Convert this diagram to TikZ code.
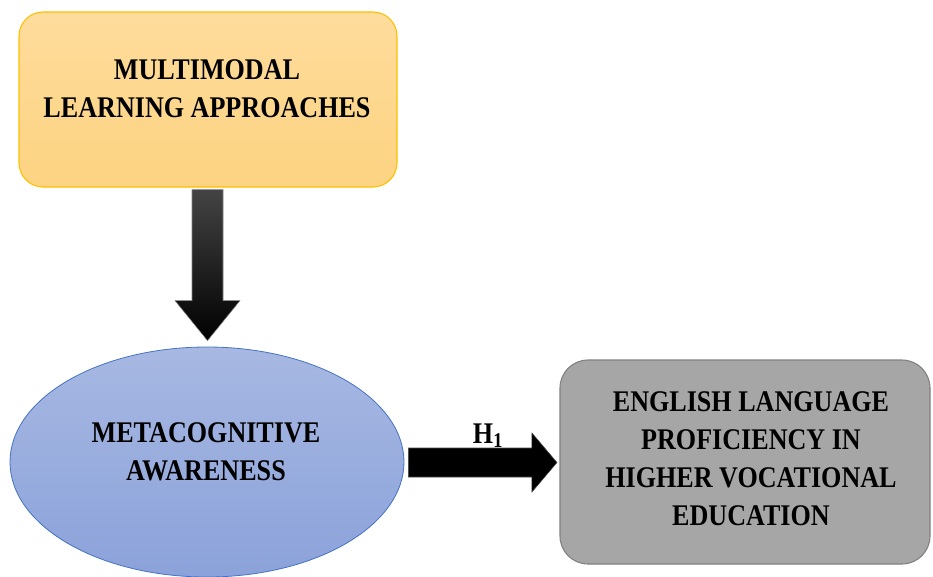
\documentclass[tikz,border=0pt]{standalone}
\usepackage{fontspec}
\setmainfont{Liberation Serif}[FakeStretch=0.87]
\usetikzlibrary{shapes.geometric,calc}
\definecolor{orTop}{HTML}{FEDC9C}
\definecolor{orBot}{HTML}{FCD381}
\definecolor{orLine}{HTML}{FFC000}
\definecolor{blTop}{HTML}{A7B8E2}
\definecolor{blBot}{HTML}{8BA2DA}
\definecolor{blLine}{HTML}{4472C4}
\definecolor{gyFill}{HTML}{A6A6A6}
\definecolor{gyLine}{HTML}{808080}
\definecolor{arTop}{HTML}{444444}
\tikzset{
  lbl/.style={align=center,inner sep=0pt,font=\bfseries\fontsize{22.5pt}{28.5pt}\selectfont,text=black},
  topbox/.style={draw=orLine,line width=0.8pt,rounded corners=18pt,top color=orTop,bottom color=orBot,
    minimum width=283.5pt,minimum height=131.25pt,inner sep=0pt},
  midell/.style={ellipse,draw=blLine,line width=0.6pt,top color=blTop,bottom color=blBot,
    minimum width=295.5pt,minimum height=172.5pt,inner sep=0pt},
  rightbox/.style={draw=gyLine,line width=0.8pt,rounded corners=21pt,fill=gyFill,
    minimum width=277.5pt,minimum height=153pt,inner sep=0pt},
  blockdown/.style={top color=arTop,bottom color=black,draw=gray,line width=0.4pt},
  blockright/.style={fill=black,draw=black!70,line width=0.4pt},
}
\begin{document}
\begin{tikzpicture}[x=0.75pt,y=-0.75pt]
\useasboundingbox (0,0) rectangle (933,576);
% shapes
\node[topbox] (mla) at (208,99.5) {};
\node[midell] (ma) at (207,462) {};
\node[rightbox] (elp) at (745,462) {};
% texts
\node[lbl] (mlat) at (207,88.5) {MULTIMODAL\\LEARNING APPROACHES};
\node[lbl] (mat) at (206,452) {METACOGNITIVE\\AWARENESS};
\node[lbl] (elpt) at (751,459) {ENGLISH LANGUAGE\\PROFICIENCY IN\\HIGHER VOCATIONAL\\EDUCATION};
% down block arrow from mla to ma
\coordinate (d0) at ($(mla.south)+(-0.5,2)$);
\coordinate (d1) at ($(ma.north)+(0.5,-6)$);
\path[blockdown] ($(d0)+(-15.5,0)$) -- ($(d0)+(15.5,0)$) -- ($(d1)+(15.5,-40)$) -- ($(d1)+(32.5,-40)$)
  -- (d1) -- ($(d1)+(-32.5,-40)$) -- ($(d1)+(-15.5,-40)$) -- cycle;
% right block arrow from ma to elp
\coordinate (r0) at ($(ma.east)+(4,0.5)$);
\coordinate (r1) at ($(elp.west)+(-2.5,0.5)$);
\path[blockright] ($(r0)+(0,-14.5)$) -- ($(r1)+(-25,-14.5)$) -- ($(r1)+(-25,-29.5)$) -- (r1)
  -- ($(r1)+(-25,29.5)$) -- ($(r1)+(-25,14.5)$) -- ($(r0)+(0,14.5)$) -- cycle;
\node[font=\bfseries\fontsize{22.5pt}{24pt}\selectfont,inner sep=0pt,anchor=base] (h1) at (488,443) {H\textsubscript{1}};
\end{tikzpicture}
\end{document}
